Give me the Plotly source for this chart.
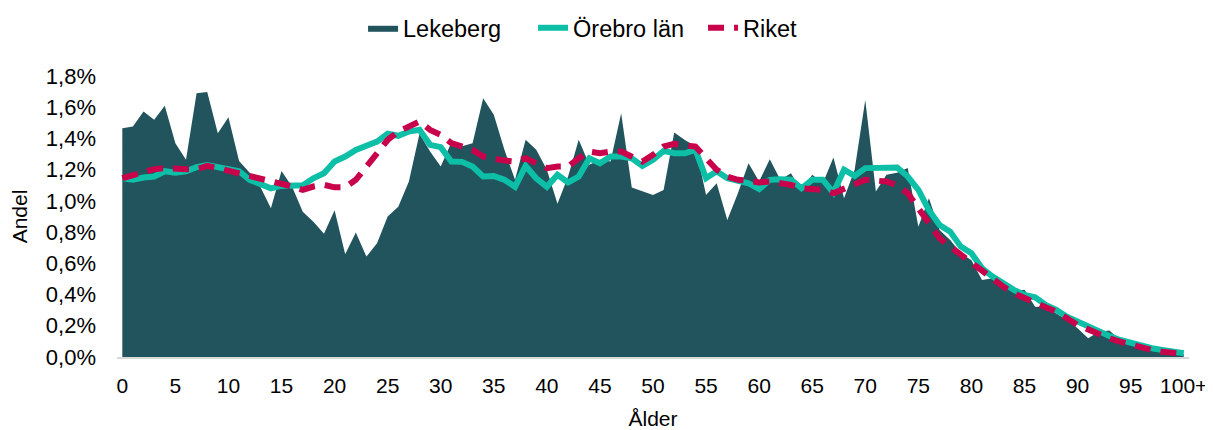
import plotly.graph_objects as go

ages = list(range(0, 101))
tick_vals = list(range(0, 101, 5))
tick_text = [str(v) for v in range(0, 100, 5)] + ["100+"]

lekeberg = [1.466, 1.476, 1.572, 1.519, 1.609, 1.37, 1.263, 1.69, 1.697, 1.434,
            1.536, 1.256, 1.18, 1.09, 0.953, 1.192, 1.09, 0.93, 0.867, 0.79,
            0.94, 0.658, 0.797, 0.643, 0.729, 0.90, 0.963, 1.124, 1.43, 1.316,
            1.22, 1.374, 1.35, 1.37, 1.658, 1.551, 1.327, 1.135, 1.391, 1.327,
            1.199, 0.981, 1.156, 1.391, 1.231, 1.263, 1.252, 1.562, 1.085, 1.06,
            1.038, 1.07, 1.438, 1.39, 1.35, 1.038, 1.113, 0.878, 1.049, 1.241,
            1.124, 1.267, 1.135, 1.177, 1.06, 1.167, 1.113, 1.278, 1.017, 1.2,
            1.647, 1.06, 1.167, 1.18, 1.21, 0.835, 1.017, 0.814, 0.75, 0.665,
            0.62, 0.494, 0.504, 0.451, 0.419, 0.43, 0.322, 0.32, 0.28, 0.237,
            0.184, 0.12, 0.162, 0.169, 0.109, 0.088, 0.07, 0.05, 0.04, 0.025,
            0.02]

orebro = [1.145, 1.135, 1.15, 1.156, 1.19, 1.18, 1.19, 1.216, 1.23, 1.216,
          1.2, 1.19, 1.135, 1.103, 1.08, 1.096, 1.096, 1.10, 1.145, 1.177,
          1.252, 1.284, 1.327, 1.35, 1.38, 1.43, 1.417, 1.444, 1.455, 1.359,
          1.344, 1.252, 1.25, 1.22, 1.156, 1.16, 1.135, 1.09, 1.224, 1.145,
          1.09, 1.167, 1.118, 1.156, 1.273, 1.241, 1.284, 1.284, 1.273, 1.224,
          1.263, 1.32, 1.305, 1.305, 1.327, 1.145, 1.19, 1.145, 1.124, 1.113,
          1.075, 1.135, 1.139, 1.135, 1.081, 1.135, 1.135, 1.053, 1.2, 1.16,
          1.21, 1.21, 1.214, 1.214, 1.156, 1.07, 0.94, 0.846, 0.803, 0.707,
          0.665, 0.568, 0.515, 0.468, 0.43, 0.397, 0.383, 0.333, 0.301, 0.258,
          0.226, 0.194, 0.162, 0.135, 0.109, 0.088, 0.07, 0.056, 0.045, 0.034,
          0.024]

riket = [1.145, 1.167, 1.19, 1.203, 1.21, 1.203, 1.203, 1.203, 1.224, 1.21,
         1.194, 1.177, 1.156, 1.139, 1.124, 1.113, 1.092, 1.07, 1.092, 1.103,
         1.087, 1.087, 1.135, 1.22, 1.305, 1.39, 1.444, 1.48, 1.508, 1.455,
         1.423, 1.37, 1.352, 1.327, 1.284, 1.267, 1.258, 1.252, 1.273, 1.241,
         1.21, 1.22, 1.22, 1.273, 1.316, 1.305, 1.316, 1.316, 1.284, 1.252,
         1.295, 1.348, 1.365, 1.359, 1.348, 1.273, 1.2, 1.156, 1.135, 1.13,
         1.118, 1.124, 1.118, 1.103, 1.081, 1.075, 1.07, 1.049, 1.081, 1.113,
         1.135, 1.13, 1.124, 1.10, 1.049, 0.953, 0.857, 0.761, 0.707, 0.654,
         0.611, 0.558, 0.504, 0.451, 0.408, 0.383, 0.348, 0.318, 0.29, 0.248,
         0.205, 0.177, 0.147, 0.12, 0.098, 0.077, 0.062, 0.045, 0.034, 0.024,
         0.02]

to_frac = lambda vals: [v / 100 for v in vals]

fig = go.Figure()
fig.add_trace(go.Scatter(
    x=ages, y=to_frac(lekeberg), name="Lekeberg", mode="lines",
    fill="tozeroy", fillcolor="#21545D", line=dict(color="#21545D", width=0),
))
fig.add_trace(go.Scatter(
    x=ages, y=to_frac(orebro), name="Örebro län", mode="lines",
    line=dict(color="#0DBFA6", width=6),
))
fig.add_trace(go.Scatter(
    x=ages, y=to_frac(riket), name="Riket", mode="lines",
    line=dict(color="#C8034C", width=6, dash="16px,10px"),
))

fig.update_layout(
    width=1213, height=430,
    margin=dict(l=109, r=32, t=68, b=81),
    paper_bgcolor="white", plot_bgcolor="white",
    font=dict(family="Liberation Sans, Arial, sans-serif", size=21, color="#000000"),
    separators=", ",
    showlegend=True,
    legend=dict(orientation="h", x=0.4674, xanchor="center", y=1 - 20 / 430,
                yanchor="middle", yref="container", font=dict(size=23.5),
                traceorder="normal", entrywidth=125),
    xaxis=dict(
        range=[-0.5, 100.5], tickvals=tick_vals, ticktext=tick_text,
        showgrid=False, zeroline=False, showline=True, linecolor="#D9D9D9",
        linewidth=2, ticks="", automargin=False, ticklabelstandoff=9,
        tickfont=dict(size=21),
        title=dict(text="Ålder", standoff=15, font=dict(size=21)),
    ),
    yaxis=dict(
        range=[0, 0.018], tickvals=[i * 0.002 for i in range(10)],
        tickformat=".1%", showgrid=False, zeroline=False, showline=False,
        ticks="", automargin=False, ticklabelstandoff=20,
        tickfont=dict(size=22),
        title=dict(text="Andel", standoff=14, font=dict(size=21)),
    ),
)

fig.write_html("out.html")
